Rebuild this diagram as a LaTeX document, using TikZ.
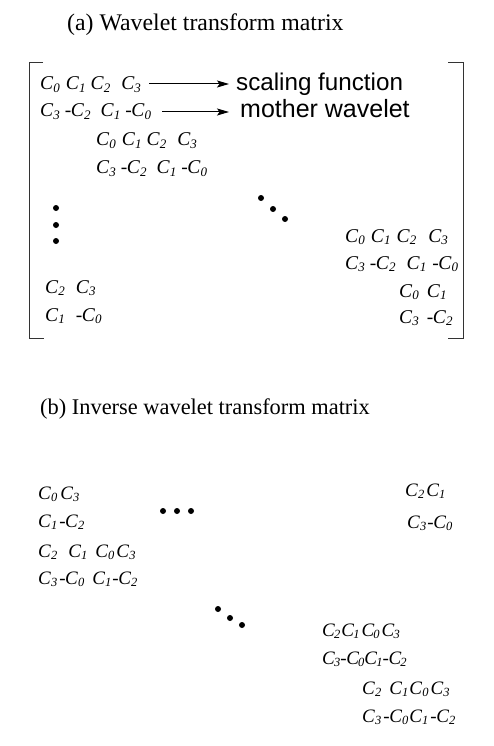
\documentclass[tikz,border=0pt]{standalone}
\usepackage{fontspec}
\setmainfont{Liberation Serif}
\newfontfamily\labelsans{Liberation Sans}
\usetikzlibrary{arrows.meta}

% one coefficient C_n, italic with an italic subscript
\newcommand\Cc[1]{\textit{C}\raisebox{-0.3ex}{\fontsize{13}{13}\selectfont\itshape #1}}
\newcommand\Cb[1]{\textit{C}\raisebox{-0.3ex}{\fontsize{12.5}{12.5}\selectfont\itshape #1}}
\newcommand\Ct[1]{\textit{C}\kern-0.05em\raisebox{-0.3ex}{\fontsize{12.5}{12.5}\selectfont\itshape #1}}
\newcommand\mn{-\kern-0.02em}

\tikzset{
  caption/.style={anchor=base west, inner sep=0pt, font=\fontsize{23.8}{23.8}\selectfont},
  entry/.style={anchor=base west, inner sep=0pt, font=\fontsize{19.5}{19.5}\selectfont},
  entryb/.style={anchor=base west, inner sep=0pt, font=\fontsize{19}{19}\selectfont},
  sanslabel/.style={anchor=base west, inner sep=0pt, font=\labelsans\fontsize{24.2}{24.2}\selectfont},
  bracket/.style={line width=0.8pt, draw=black!80},
  mapsto/.style={line width=1pt, -{Stealth[length=12pt,width=7pt,inset=2.5pt]}},
  dot/.style={circle, fill=black, inner sep=0pt, minimum size=6pt},
}

\begin{document}
\begin{tikzpicture}[x=1pt,y=-1pt]
\useasboundingbox (0,0) rectangle (494,746);

% ---------- (a) wavelet transform matrix ----------
\node[caption] (capa) at (67,31) {(a) Wavelet transform matrix};

% bracket corners
\coordinate (lt) at (29,62);
\coordinate (lb) at (29,338);
\coordinate (rt) at (463,62);
\coordinate (rb) at (463,338);
\draw[bracket] ([xshift=14pt]lt) -- (lt) -- (lb) -- ([xshift=15pt]lb);
\draw[bracket] ([xshift=-15pt]rt) -- (rt) -- (rb) -- ([xshift=-15pt]rb);

% first pair of rows
\node[entry] (a1) at (40,90) {\Cc0\hspace{6pt}\Cc1\hspace{5pt}\Cc2\hspace{11pt}\Cc3};
\node[entry] (a2) at (40,117) {\Cc3\hspace{5pt}\mn\Cc2\hspace{10pt}\Cc1\hspace{5pt}\mn\Cc0};
\node[sanslabel] (sf) at (236,91) {scaling function};
\node[sanslabel, font=\labelsans\fontsize{25}{25}\selectfont] (mw) at (240,118) {mother wavelet};
\draw[mapsto] ([xshift=8pt]a1.east |- 0,84) -- ([xshift=-7pt]sf.west |- 0,84);
\draw[mapsto] ([xshift=11pt]a2.east |- 0,112) -- ([xshift=-11pt]mw.west |- 0,112);

% second pair, shifted by two columns
\node[entry] (a3) at (96,146) {\Cc0\hspace{6pt}\Cc1\hspace{5pt}\Cc2\hspace{11pt}\Cc3};
\node[entry] (a4) at (96,174) {\Cc3\hspace{5pt}\mn\Cc2\hspace{10pt}\Cc1\hspace{5pt}\mn\Cc0};

% ellipses
\node[dot] (v1) at (56,208) {};
\node[dot] (v2) at (56,225) {};
\node[dot] (v3) at (56,241) {};
\node[dot] (d1) at (261,198) {};
\node[dot] (d2) at (273,209) {};
\node[dot] (d3) at (285,219) {};

% last pair of rows
\node[entry] (a5) at (345,242) {\Cc0\hspace{6pt}\Cc1\hspace{6pt}\Cc2\hspace{12pt}\Cc3};
\node[entry] (a6) at (345,269) {\Cc3\hspace{5pt}\mn\Cc2\hspace{11pt}\Cc1\hspace{6pt}\mn\Cc0};
\node[entry] (a7) at (399,297) {\Cc0\hspace{8pt}\Cc1};
\node[entry] (a8) at (399,323) {\Cc3\hspace{8pt}\mn\Cc2};

% wrapped-around columns
\node[entry] (a9) at (45,293) {\Cc2\hspace{11pt}\Cc3};
\node[entry] (a10) at (45,321) {\Cc1\hspace{11pt}\mn\Cc0};

% ---------- (b) inverse wavelet transform matrix ----------
\node[caption, font=\fontsize{22.4}{22.4}\selectfont] (capb) at (40,414) {(b) Inverse wavelet transform matrix};

\node[entryb] (b1) at (38,499) {\Cb0\hspace{3pt}\Cb3};
\node[entryb] (b2) at (38,527) {\Cb1\hspace{2pt}\mn\Cb2};
\node[entryb] (b3) at (38,557) {\Cb2\hspace{11pt}\Cb1\hspace{8pt}\Cb0\hspace{2pt}\Cb3};
\node[entryb] (b4) at (38,584) {\Cb3\hspace{2pt}\mn\Cb0\hspace{8pt}\Cb1\hspace{1pt}\mn\Cb2};

\node[dot] (h1) at (163,511) {};
\node[dot] (h2) at (177,511) {};
\node[dot] (h3) at (191,511) {};

\node[entryb] (b5) at (405,496) {\Cb2\hspace{2pt}\Cb1};
\node[entryb] (b6) at (407,528) {\Cb3\hspace{1pt}\mn\Cb0};

\node[dot] (e1) at (218,609) {};
\node[dot] (e2) at (230,618) {};
\node[dot] (e3) at (242,625) {};

\node[entryb] (b7) at (322,636) {\Ct2\hspace{1pt}\Ct1\hspace{2pt}\Ct0\hspace{2pt}\Ct3};
\node[entryb] (b8) at (322,664) {\Ct3\mn\Ct0\Ct1\mn\Ct2};
\node[entryb] (b9) at (362,694) {\Cb2\hspace{8pt}\Cb1\hspace{1pt}\Cb0\hspace{2pt}\Cb3};
\node[entryb] (b10) at (362,722) {\Cb3\hspace{2pt}\mn\Cb0\hspace{1pt}\Cb1\hspace{2pt}\mn\Cb2};
\end{tikzpicture}
\end{document}
